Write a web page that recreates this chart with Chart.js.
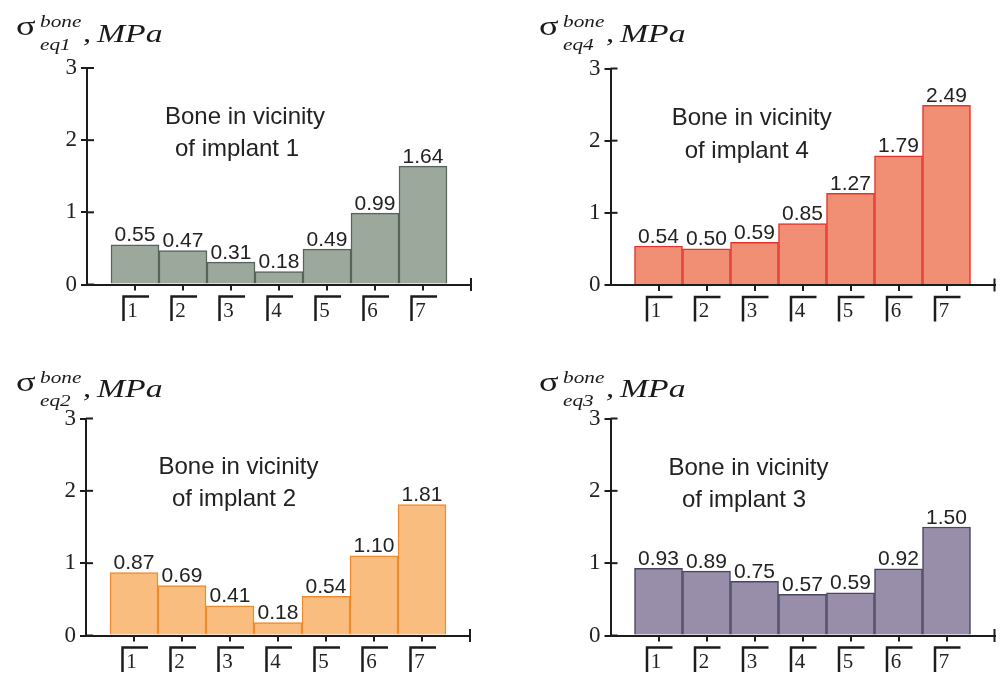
<!DOCTYPE html>
<html>
<head>
<meta charset="utf-8">
<script src="https://cdn.jsdelivr.net/npm/chart.js@4.4.1/dist/chart.umd.min.js"></script>
<style>
  html, body { margin: 0; padding: 0; background: #ffffff; }
  #wrap { position: relative; width: 1000px; height: 673px; overflow: hidden; background: #ffffff; }
  .panel { position: absolute; }
  canvas { display: block; }
</style>
</head>
<body>
<div id="wrap">
  <div class="panel" style="left:0;top:0;"><canvas id="c1" width="500" height="336"></canvas></div>
  <div class="panel" style="left:500px;top:0;"><canvas id="c4" width="500" height="336"></canvas></div>
  <div class="panel" style="left:0;top:336px;"><canvas id="c2" width="500" height="337"></canvas></div>
  <div class="panel" style="left:500px;top:336px;"><canvas id="c3" width="500" height="337"></canvas></div>
</div>
<script>
// Boundary sections Γ1..Γ7 along the implant
const gammaLabels = ['1', '2', '3', '4', '5', '6', '7'];
const yTicks = [0, 1, 2, 3];

// Equivalent stress in bone near each implant, MPa
const implant1 = [0.55, 0.47, 0.31, 0.18, 0.49, 0.99, 1.64];
const implant4 = [0.54, 0.50, 0.59, 0.85, 1.27, 1.79, 2.49];
const implant2 = [0.87, 0.69, 0.41, 0.18, 0.54, 1.10, 1.81];
const implant3 = [0.93, 0.89, 0.75, 0.57, 0.59, 0.92, 1.50];

const SERIF = '"Liberation Serif", "Times New Roman", serif';
const SANS = '"Liberation Sans", Arial, sans-serif';
const AXIS = '#1c1c1c';
const TEXT = '#222222';

const panels = [
  { id: 'c1', w: 500, h: 336, area: { left: 87, right: 471, top: 68, bottom: 284.5 },
    values: implant1, fill: '#9ba89b', stroke: '#56655b', sub: 'eq1',
    title: { x: 16, sigmaY: 35, supY: 27, subY: 50, unitY: 42 },
    notes: [{ text: 'Bone in vicinity', x: 245, y: 124 }, { text: 'of implant 1', x: 237, y: 156 }] },
  { id: 'c4', w: 500, h: 336, area: { left: 110.5, right: 494.5, top: 68.5, bottom: 285 },
    values: implant4, fill: '#f08f74', stroke: '#e5342b', sub: 'eq4',
    title: { x: 39, sigmaY: 35, supY: 27, subY: 50, unitY: 42 },
    notes: [{ text: 'Bone in vicinity', x: 251.7, y: 125 }, { text: 'of implant 4', x: 246.7, y: 158 }] },
  { id: 'c2', w: 500, h: 337, area: { left: 86, right: 470, top: 82.5, bottom: 299.5 },
    values: implant2, fill: '#f9bd80', stroke: '#ef8b2a', sub: 'eq2',
    title: { x: 16, sigmaY: 55, supY: 47, subY: 70, unitY: 61 },
    notes: [{ text: 'Bone in vicinity', x: 238.5, y: 138 }, { text: 'of implant 2', x: 234, y: 170 }] },
  { id: 'c3', w: 500, h: 337, area: { left: 110.5, right: 494.5, top: 82.5, bottom: 299.5 },
    values: implant3, fill: '#988ea9', stroke: '#4a4560', sub: 'eq3',
    title: { x: 39, sigmaY: 55, supY: 47, subY: 70, unitY: 61 },
    notes: [{ text: 'Bone in vicinity', x: 248.5, y: 138.7 }, { text: 'of implant 3', x: 244, y: 170.7 }] }
];

function scaledText(ctx, text, x, y, font, sx) {
  ctx.save();
  ctx.font = font;
  ctx.translate(x, y);
  ctx.scale(sx, 1);
  ctx.fillText(text, 0, 0);
  ctx.restore();
}

function line(ctx, x1, y1, x2, y2) {
  ctx.beginPath();
  ctx.moveTo(x1, y1);
  ctx.lineTo(x2, y2);
  ctx.stroke();
}

// Extra drawing: crossing y ticks, axis end cap, Γ brackets, values, notes, title
const decor = {
  id: 'decor',
  afterDatasetsDraw(chart) {
    const p = chart.config.options.plugins.decor;
    const ctx = chart.ctx;
    const meta = chart.getDatasetMeta(0);
    ctx.save();
    ctx.fillStyle = TEXT;
    ctx.font = '21px ' + SANS;
    ctx.textAlign = 'center';
    ctx.textBaseline = 'alphabetic';
    meta.data.forEach((bar, i) => {
      ctx.fillText(p.values[i].toFixed(2), bar.x, bar.y - 3.5);
    });
    ctx.restore();
  },
  afterDraw(chart) {
    const p = chart.config.options.plugins.decor;
    const ctx = chart.ctx;
    const xs = chart.scales.x, ys = chart.scales.y;
    const ca = chart.chartArea;
    ctx.save();
    ctx.strokeStyle = AXIS;
    ctx.lineWidth = 2;
    // inner half of the y ticks
    ys.ticks.forEach(t => {
      const py = ys.getPixelForValue(t.value);
      line(ctx, ca.left, py, ca.left + 7, py);
    });
    // end cap of the x axis
    line(ctx, ca.right, ca.bottom - 6.5, ca.right, ca.bottom + 6.5);
    // Γ brackets around section numbers
    ctx.lineWidth = 2.5;
    ctx.lineCap = 'butt';
    xs.ticks.forEach(t => {
      const px = xs.getPixelForValue(t.value);
      ctx.beginPath();
      ctx.moveTo(px - 11.5, ca.bottom + 36.5);
      ctx.lineTo(px - 11.5, ca.bottom + 12);
      ctx.lineTo(px + 14, ca.bottom + 12);
      ctx.stroke();
    });
    // notes
    ctx.fillStyle = TEXT;
    ctx.textAlign = 'center';
    ctx.textBaseline = 'alphabetic';
    ctx.font = '24px ' + SANS;
    p.notes.forEach(n => ctx.fillText(n.text, n.x, n.y));
    // title σ^bone_eqN , MPa
    const t = p.title;
    ctx.textAlign = 'left';
    ctx.fillStyle = '#1a1a1a';
    scaledText(ctx, 'σ', t.x, t.sigmaY, '28px ' + SERIF, 1.3);
    scaledText(ctx, 'bone', t.x + 24, t.supY, 'italic 17px ' + SERIF, 1.25);
    scaledText(ctx, p.sub, t.x + 24, t.subY, 'italic 17px ' + SERIF, 1.25);
    scaledText(ctx, ',', t.x + 67, t.unitY, 'italic 25px ' + SERIF, 1.3);
    scaledText(ctx, 'MPa', t.x + 81, t.unitY, 'italic 25px ' + SERIF, 1.35);
    ctx.restore();
  }
};

panels.forEach(p => {
  const a = p.area;
  new Chart(document.getElementById(p.id), {
    type: 'bar',
    data: {
      datasets: [{
        data: p.values.map((v, i) => ({ x: i + 1, y: v })),
        backgroundColor: p.fill,
        borderColor: p.stroke,
        borderWidth: 1.5,
        barPercentage: 1,
        categoryPercentage: 1
      }]
    },
    options: {
      responsive: false,
      animation: false,
      events: [],
      layout: { padding: { left: 0, top: a.top, right: p.w - a.right, bottom: 0 } },
      plugins: {
        legend: { display: false },
        tooltip: { enabled: false },
        decor: { values: p.values, notes: p.notes, title: p.title, sub: p.sub }
      },
      scales: {
        x: {
          type: 'linear', min: 0, max: 8, offset: false,
          afterBuildTicks: s => { s.ticks = gammaLabels.map((_, i) => ({ value: i + 1 })); },
          afterFit: s => { s.height = p.h - a.bottom; },
          grid: { offset: false, drawOnChartArea: false, drawTicks: true, tickLength: 6, color: AXIS, lineWidth: 2 },
          border: { display: true, color: AXIS, width: 2 },
          ticks: {
            autoSkip: false, maxRotation: 0, padding: 8, labelOffset: -2.5,
            color: TEXT, font: { family: SERIF, size: 21 },
            callback: v => gammaLabels[v - 1] ?? ''
          }
        },
        y: {
          min: 0, max: 3,
          afterBuildTicks: s => { s.ticks = yTicks.map(v => ({ value: v })); },
          afterFit: s => { s.width = a.left; },
          grid: { drawOnChartArea: false, drawTicks: true, tickLength: 6, color: AXIS, lineWidth: 2 },
          border: { display: true, color: AXIS, width: 2 },
          ticks: { padding: 4, color: TEXT, font: { family: SERIF, size: 23 }, callback: v => String(v) }
        }
      }
    },
    plugins: [decor]
  });
});
</script>
</body>
</html>
